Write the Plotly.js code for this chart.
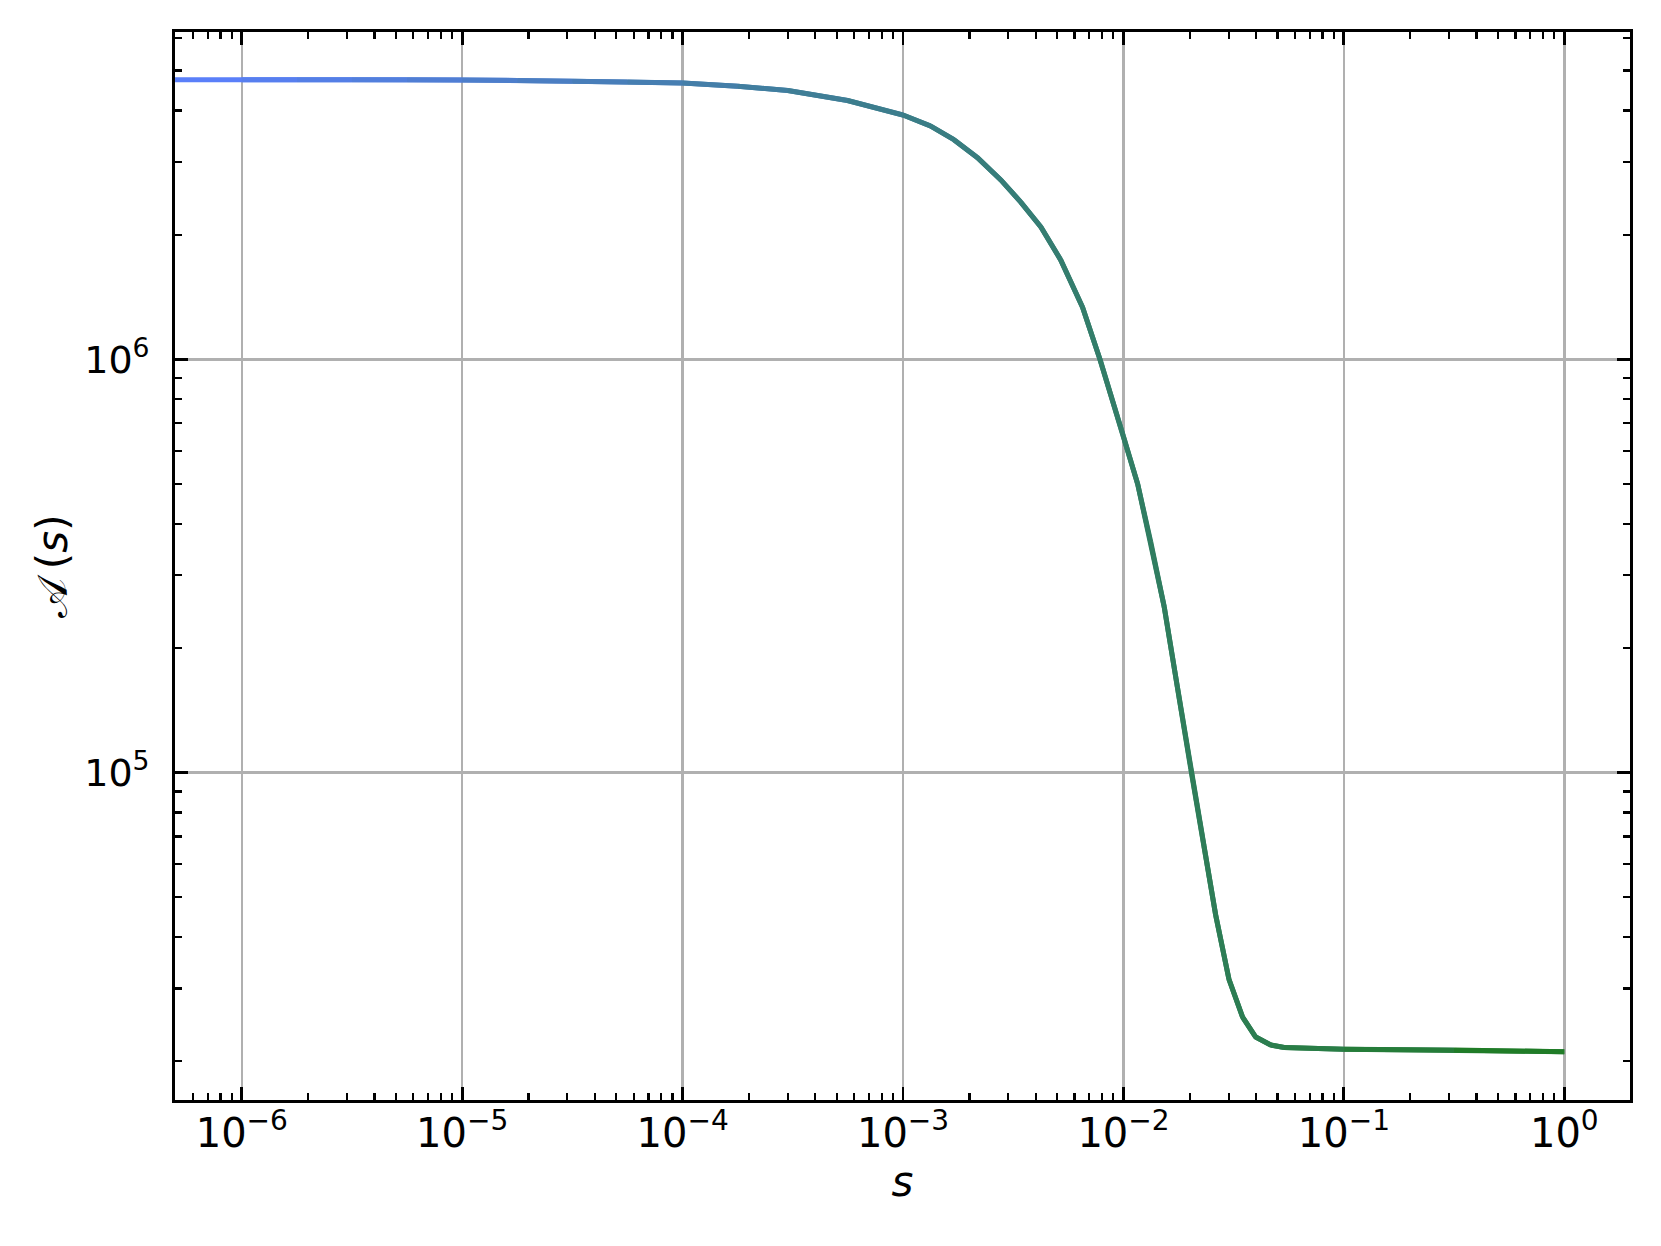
<!DOCTYPE html>
<html>
<head>
<meta charset="utf-8">
<script src="https://cdn.plot.ly/plotly-3.0.1.min.js"></script>
<style>html,body{margin:0;padding:0;background:#fff;}#chart{width:1661px;height:1246px;}</style>
</head>
<body>
<div id="chart"></div>
<script>
// s values (x) and A(s) values (y)
var sValues = [4.98e-7, 1.0e-6, 1.78e-6, 3.16e-6, 5.62e-6, 1.0e-5, 1.78e-5, 3.16e-5, 5.62e-5,
  1.0e-4, 1.78e-4, 3.0e-4, 5.6e-4, 1.0e-3, 1.33e-3, 1.70e-3, 2.17e-3, 2.77e-3, 3.42e-3,
  4.22e-3, 5.19e-3, 6.52e-3, 7.82e-3, 1.0e-2, 1.16e-2, 1.33e-2, 1.53e-2, 1.76e-2, 2.02e-2,
  2.32e-2, 2.62e-2, 3.01e-2, 3.47e-2, 3.98e-2, 4.66e-2, 5.36e-2, 1.0e-1, 3.16e-1, 1.0];
var aValues = [4.75e6, 4.75e6, 4.75e6, 4.75e6, 4.745e6, 4.74e6, 4.73e6, 4.71e6, 4.69e6,
  4.66e6, 4.58e6, 4.47e6, 4.23e6, 3.90e6, 3.67e6, 3.40e6, 3.08e6, 2.72e6, 2.40e6,
  2.09e6, 1.74e6, 1.336e6, 1.0e6, 6.50e5, 4.99e5, 3.61e5, 2.52e5, 1.60e5, 1.02e5,
  6.64e4, 4.52e4, 3.16e4, 2.56e4, 2.29e4, 2.19e4, 2.16e4, 2.14e4, 2.13e4, 2.11e4];

var xTickVals = [1e-6, 1e-5, 1e-4, 1e-3, 1e-2, 1e-1, 1];
var xTickText = ['10<sup>−6</sup>', '10<sup>−5</sup>', '10<sup>−4</sup>', '10<sup>−3</sup>',
  '10<sup>−2</sup>', '10<sup>−1</sup>', '10<sup>0</sup>'];
var yTickVals = [1e5, 1e6];
var yTickText = ['10<sup>5</sup>', '10<sup>6</sup>'];

var startColor = [91, 127, 254];
var endColor = [30, 124, 30];

var xRange = [-6.303, 0.298];
var yRange = [4.2075, 6.792];

function minorVals(lo, hi) {
  var out = [];
  for (var d = Math.floor(lo) - 1; d <= Math.ceil(hi); d++) {
    for (var k = 2; k <= 9; k++) {
      var v = k * Math.pow(10, d);
      var lv = Math.log10(v);
      if (lv > lo && lv < hi) out.push(v);
    }
  }
  return out;
}

var traces = [];
var n = sValues.length;
var l0 = Math.log10(sValues[0]), l1 = Math.log10(sValues[n - 1]);
for (var i = 0; i < n - 1; i++) {
  var mid = (Math.log10(sValues[i]) + Math.log10(sValues[i + 1])) / 2;
  var t = (mid - l0) / (l1 - l0);
  var c = startColor.map(function (v, j) { return Math.round(v + (endColor[j] - v) * t); });
  var end = Math.min(i + 3, n);
  traces.push({
    x: sValues.slice(i, end),
    y: aValues.slice(i, end),
    type: 'scatter',
    mode: 'lines',
    line: {color: 'rgb(' + c.join(',') + ')', width: 5},
    hoverinfo: 'skip',
    showlegend: false
  });
}

var axisCommon = {
  type: 'log',
  showline: true, linecolor: 'black', linewidth: 2.9, mirror: 'allticks',
  ticks: 'inside', ticklen: 12.6, tickwidth: 2.9, tickcolor: 'black',
  showgrid: true, gridcolor: '#b0b0b0', gridwidth: 2.5, zeroline: false,
  tickmode: 'array',
  tickfont: {family: 'DejaVu Sans', size: 40, color: 'black'}
};

var layout = {
  width: 1661, height: 1246,
  margin: {l: 175, r: 31, t: 32, b: 146},
  paper_bgcolor: 'white', plot_bgcolor: 'white',
  font: {family: 'DejaVu Sans', color: 'black'},
  xaxis: Object.assign({}, axisCommon, {
    range: xRange, tickvals: xTickVals, ticktext: xTickText,
    ticklabelstandoff: -4,
    minor: {tickmode: 'array', tickvals: minorVals(xRange[0], xRange[1]), ticks: 'inside', ticklen: 7.2, tickwidth: 2.2, tickcolor: 'black', showgrid: false},
    title: {text: '<i>s</i>', font: {family: 'DejaVu Sans', size: 42, color: 'black'}, standoff: 12}
  }),
  yaxis: Object.assign({}, axisCommon, {
    range: yRange, tickvals: yTickVals, ticktext: yTickText,
    ticklabelstandoff: 15,
    tickfont: {family: 'DejaVu Sans', size: 38, color: 'black'},
    minor: {tickmode: 'array', tickvals: minorVals(yRange[0], yRange[1]), ticks: 'inside', ticklen: 7.2, tickwidth: 2.2, tickcolor: 'black', showgrid: false},
    title: {text: '𝒜\u2009(<i>s</i>)', font: {family: 'DejaVu Sans', size: 42, color: 'black'}, standoff: 4}
  })
};

Plotly.newPlot('chart', traces, layout, {displayModeBar: false, staticPlot: true});
</script>
</body>
</html>
